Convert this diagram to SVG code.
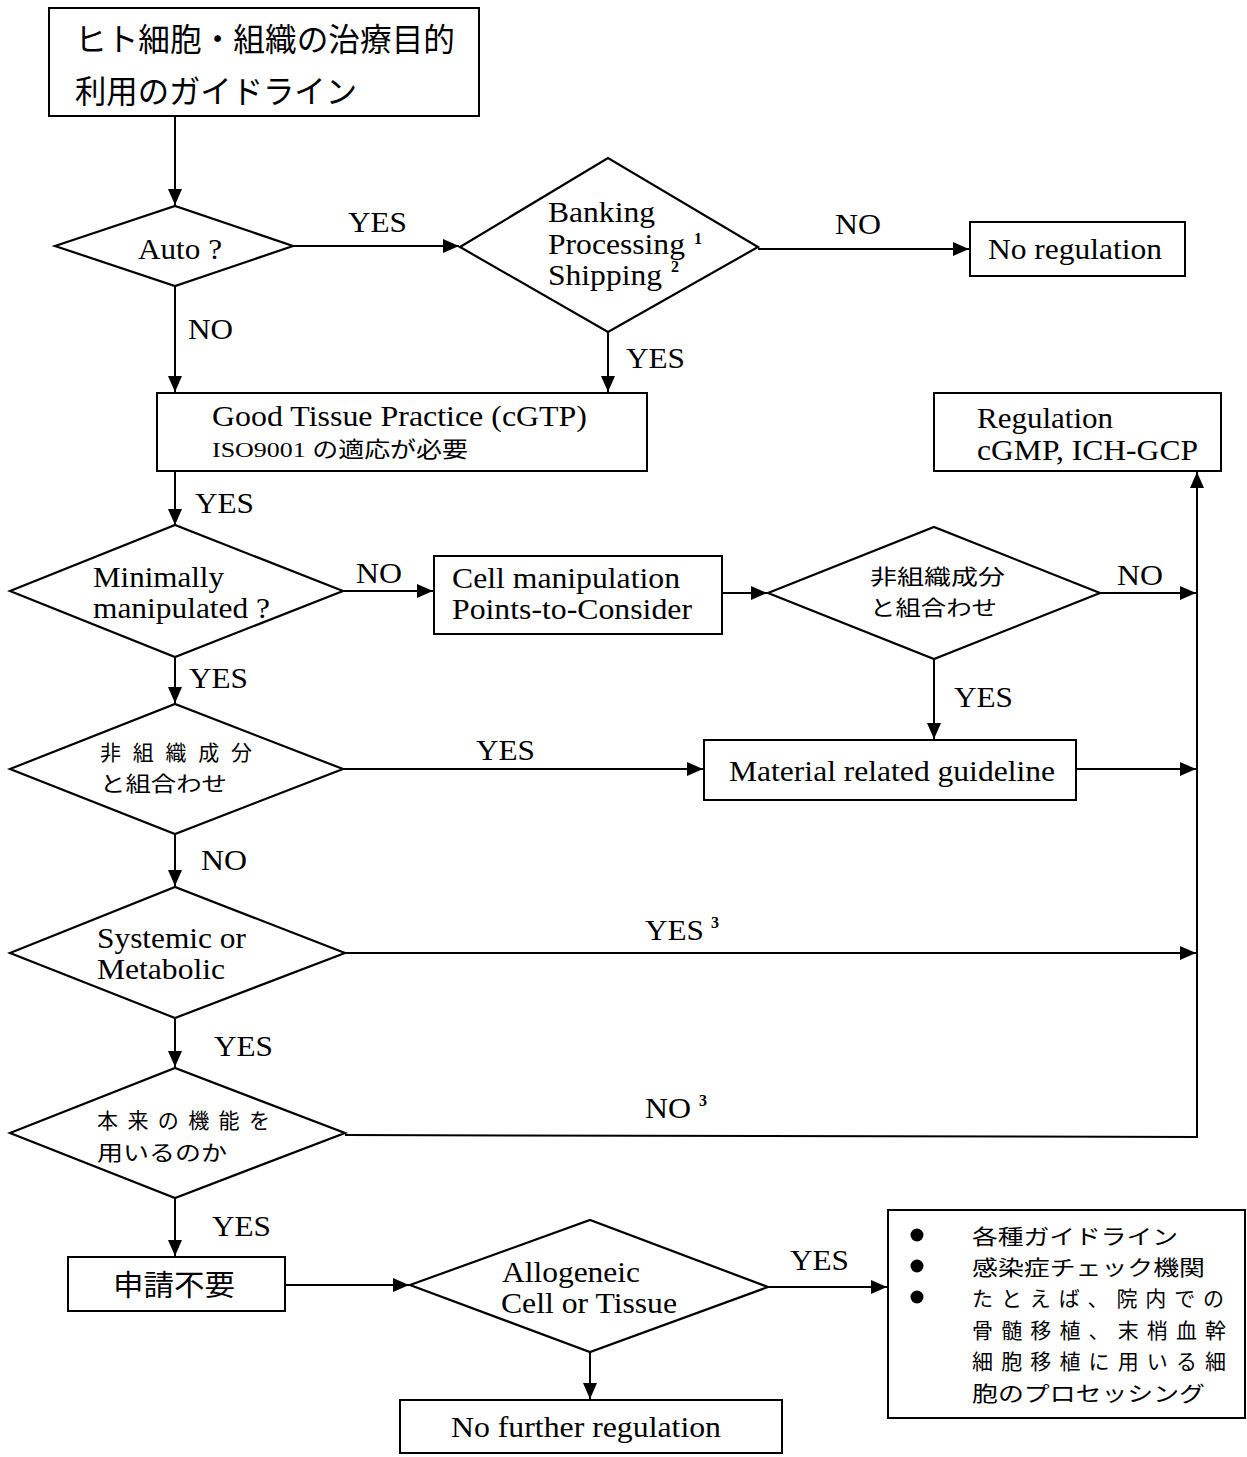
<svg xmlns="http://www.w3.org/2000/svg" width="1247" height="1457" viewBox="0 0 1247 1457">
<style>
.box{fill:#fff;stroke:#000;stroke-width:2}
.dia{fill:#fff;stroke:#000;stroke-width:2.2}
.ln{fill:none;stroke:#000;stroke-width:2}
.t{font-family:"Liberation Serif","Times New Roman",serif;font-size:30px;fill:#000}
.j{font-family:"Noto Sans CJK JP","Noto Sans",sans-serif;font-size:21px;fill:#000}
.jl{font-family:"Noto Sans CJK JP","Noto Sans",sans-serif;font-size:32px;fill:#000}
.jm{font-family:"Noto Sans CJK JP","Noto Sans",sans-serif;font-size:29px;fill:#000}
.sup{font-family:"Liberation Serif",serif;font-size:16px;font-weight:bold;fill:#000}
</style>
<defs>
<marker id="ah" markerUnits="userSpaceOnUse" markerWidth="16" markerHeight="14" refX="16" refY="7" orient="auto">
<path d="M0,0 L16,7 L0,14 z" fill="#000"/>
</marker>
</defs>
<rect width="1247" height="1457" fill="#fff"/>
<g id="connectors">
<path class="ln" d="M175,117 V205" marker-end="url(#ah)"/>
<path class="ln" d="M293,246 H459" marker-end="url(#ah)"/>
<path class="ln" d="M758,249 H969" marker-end="url(#ah)"/>
<path class="ln" d="M175,286 V392" marker-end="url(#ah)"/>
<path class="ln" d="M608,332 V392" marker-end="url(#ah)"/>
<path class="ln" d="M175,471 V525" marker-end="url(#ah)"/>
<path class="ln" d="M343,591 H433" marker-end="url(#ah)"/>
<path class="ln" d="M722,593 H767" marker-end="url(#ah)"/>
<path class="ln" d="M1100,593 H1196" marker-end="url(#ah)"/>
<path class="ln" d="M1197,1138 V472" marker-end="url(#ah)"/>
<path class="ln" d="M934,659 V739" marker-end="url(#ah)"/>
<path class="ln" d="M175,657 V703" marker-end="url(#ah)"/>
<path class="ln" d="M343,769 H703" marker-end="url(#ah)"/>
<path class="ln" d="M1076,769 H1196" marker-end="url(#ah)"/>
<path class="ln" d="M175,834 V886" marker-end="url(#ah)"/>
<path class="ln" d="M345,953 H1196" marker-end="url(#ah)"/>
<path class="ln" d="M175,1018 V1067" marker-end="url(#ah)"/>
<path class="ln" d="M345,1135 L1198,1137"/>
<path class="ln" d="M175,1198 V1256" marker-end="url(#ah)"/>
<path class="ln" d="M285,1285 H409" marker-end="url(#ah)"/>
<path class="ln" d="M768,1287 H887" marker-end="url(#ah)"/>
<path class="ln" d="M590,1352 V1399" marker-end="url(#ah)"/>
</g>
<g id="edge-labels">
<text class="t" x="348" y="232" textLength="59" lengthAdjust="spacingAndGlyphs">YES</text>
<text class="t" x="835" y="234" textLength="46" lengthAdjust="spacingAndGlyphs">NO</text>
<text class="t" x="188" y="339" textLength="45" lengthAdjust="spacingAndGlyphs">NO</text>
<text class="t" x="626" y="368" textLength="59" lengthAdjust="spacingAndGlyphs">YES</text>
<text class="t" x="195" y="513" textLength="59" lengthAdjust="spacingAndGlyphs">YES</text>
<text class="t" x="356" y="583" textLength="46" lengthAdjust="spacingAndGlyphs">NO</text>
<text class="t" x="1117" y="585" textLength="46" lengthAdjust="spacingAndGlyphs">NO</text>
<text class="t" x="954" y="707" textLength="59" lengthAdjust="spacingAndGlyphs">YES</text>
<text class="t" x="189" y="688" textLength="59" lengthAdjust="spacingAndGlyphs">YES</text>
<text class="t" x="476" y="760" textLength="59" lengthAdjust="spacingAndGlyphs">YES</text>
<text class="t" x="201" y="870" textLength="46" lengthAdjust="spacingAndGlyphs">NO</text>
<text class="t" x="645" y="940" textLength="59" lengthAdjust="spacingAndGlyphs">YES</text>
<text class="sup" x="711" y="928">3</text>
<text class="t" x="214" y="1056" textLength="59" lengthAdjust="spacingAndGlyphs">YES</text>
<text class="t" x="645" y="1118" textLength="46" lengthAdjust="spacingAndGlyphs">NO</text>
<text class="sup" x="699" y="1106">3</text>
<text class="t" x="212" y="1236" textLength="59" lengthAdjust="spacingAndGlyphs">YES</text>
<text class="t" x="790" y="1270" textLength="59" lengthAdjust="spacingAndGlyphs">YES</text>
</g>
<g id="n-start">
<rect class="box" x="49" y="8" width="430" height="108"/>
<text class="jl" x="75" y="51" textLength="380" lengthAdjust="spacingAndGlyphs">ヒト細胞・組織の治療目的</text>
<text class="jl" x="75" y="103" textLength="282" lengthAdjust="spacingAndGlyphs">利用のガイドライン</text>
</g>
<g id="n-auto">
<polygon class="dia" points="55,246 175,206 293,246 175,286"/>
<text class="t" x="138" y="259" textLength="84" lengthAdjust="spacingAndGlyphs">Auto ?</text>
</g>
<g id="n-banking">
<polygon class="dia" points="460,247 608,158 758,247 608,332"/>
<text class="t" x="548" y="222" textLength="107" lengthAdjust="spacingAndGlyphs">Banking</text>
<text class="t" x="548" y="254" textLength="137" lengthAdjust="spacingAndGlyphs">Processing</text>
<text class="t" x="548" y="285" textLength="114" lengthAdjust="spacingAndGlyphs">Shipping</text>
<text class="sup" x="694" y="244">1</text>
<text class="sup" x="671" y="272">2</text>
</g>
<g id="n-noreg">
<rect class="box" x="970" y="222" width="215" height="54"/>
<text class="t" x="988" y="259" textLength="174" lengthAdjust="spacingAndGlyphs">No regulation</text>
</g>
<g id="n-cgtp">
<rect class="box" x="157" y="393" width="490" height="78"/>
<text class="t" x="212" y="426" textLength="375" lengthAdjust="spacingAndGlyphs">Good Tissue Practice (cGTP)</text>
<text x="212" y="457" font-family="Liberation Serif, Noto Sans CJK JP, serif" font-size="22" textLength="256" lengthAdjust="spacingAndGlyphs">ISO9001 の適応が必要</text>
</g>
<g id="n-regulation">
<rect class="box" x="934" y="393" width="287" height="78"/>
<text class="t" x="977" y="428" textLength="136" lengthAdjust="spacingAndGlyphs">Regulation</text>
<text class="t" x="977" y="460" textLength="221" lengthAdjust="spacingAndGlyphs">cGMP, ICH-GCP</text>
</g>
<g id="n-minimally">
<polygon class="dia" points="10,591 175,525 343,591 175,657"/>
<text class="t" x="93" y="587" textLength="131" lengthAdjust="spacingAndGlyphs">Minimally</text>
<text class="t" x="93" y="618" textLength="177" lengthAdjust="spacingAndGlyphs">manipulated ?</text>
</g>
<g id="n-cellmanip">
<rect class="box" x="434" y="556" width="288" height="78"/>
<text class="t" x="452" y="588" textLength="228" lengthAdjust="spacingAndGlyphs">Cell manipulation</text>
<text class="t" x="452" y="619" textLength="240" lengthAdjust="spacingAndGlyphs">Points-to-Consider</text>
</g>
<g id="n-nontissue-right">
<polygon class="dia" points="768,593 934,527 1100,593 934,659"/>
<text class="j" x="870" y="584" textLength="135" lengthAdjust="spacingAndGlyphs">非組織成分</text>
<text class="j" x="870" y="615" textLength="127" lengthAdjust="spacingAndGlyphs">と組合わせ</text>
</g>
<g id="n-nontissue-left">
<polygon class="dia" points="10,769 175,704 343,769 175,834"/>
<text class="j" x="100" y="760" textLength="152" lengthAdjust="spacing">非組織成分</text>
<text class="j" x="100" y="791" textLength="127" lengthAdjust="spacingAndGlyphs">と組合わせ</text>
</g>
<g id="n-material">
<rect class="box" x="704" y="740" width="372" height="60"/>
<text class="t" x="729" y="781" textLength="326" lengthAdjust="spacingAndGlyphs">Material related guideline</text>
</g>
<g id="n-systemic">
<polygon class="dia" points="10,953 175,887 345,953 175,1018"/>
<text class="t" x="97" y="948" textLength="149" lengthAdjust="spacingAndGlyphs">Systemic or</text>
<text class="t" x="97" y="979" textLength="128" lengthAdjust="spacingAndGlyphs">Metabolic</text>
</g>
<g id="n-function">
<polygon class="dia" points="10,1133 175,1068 345,1133 175,1198"/>
<text class="j" x="97" y="1128" textLength="173" lengthAdjust="spacing">本来の機能を</text>
<text class="j" x="97" y="1160" textLength="130" lengthAdjust="spacingAndGlyphs">用いるのか</text>
</g>
<g id="n-noapp">
<rect class="box" x="68" y="1257" width="217" height="54"/>
<text class="jm" x="113" y="1296" textLength="122" lengthAdjust="spacingAndGlyphs">申請不要</text>
</g>
<g id="n-allogeneic">
<polygon class="dia" points="410,1285 590,1220 768,1287 590,1352"/>
<text class="t" x="502" y="1282" textLength="138" lengthAdjust="spacingAndGlyphs">Allogeneic</text>
<text class="t" x="501" y="1313" textLength="176" lengthAdjust="spacingAndGlyphs">Cell or Tissue</text>
</g>
<g id="n-nofurther">
<rect class="box" x="400" y="1400" width="382" height="53"/>
<text class="t" x="451" y="1437" textLength="270" lengthAdjust="spacingAndGlyphs">No further regulation</text>
</g>
<g id="n-guidelines">
<rect class="box" x="888" y="1210" width="357" height="208"/>
<circle cx="917" cy="1235" r="6.5" fill="#000"/>
<circle cx="917" cy="1266" r="6.5" fill="#000"/>
<circle cx="917" cy="1297" r="6.5" fill="#000"/>
<text class="j" x="972" y="1244" textLength="206" lengthAdjust="spacingAndGlyphs">各種ガイドライン</text>
<text class="j" x="972" y="1275" textLength="233" lengthAdjust="spacingAndGlyphs">感染症チェック機関</text>
<text class="j" x="972" y="1306" textLength="252" lengthAdjust="spacing">たとえば、院内での</text>
<text class="j" x="972" y="1338" textLength="254" lengthAdjust="spacing">骨髄移植、末梢血幹</text>
<text class="j" x="972" y="1369" textLength="254" lengthAdjust="spacing">細胞移植に用いる細</text>
<text class="j" x="972" y="1401" textLength="233" lengthAdjust="spacingAndGlyphs">胞のプロセッシング</text>
</g>
</svg>
